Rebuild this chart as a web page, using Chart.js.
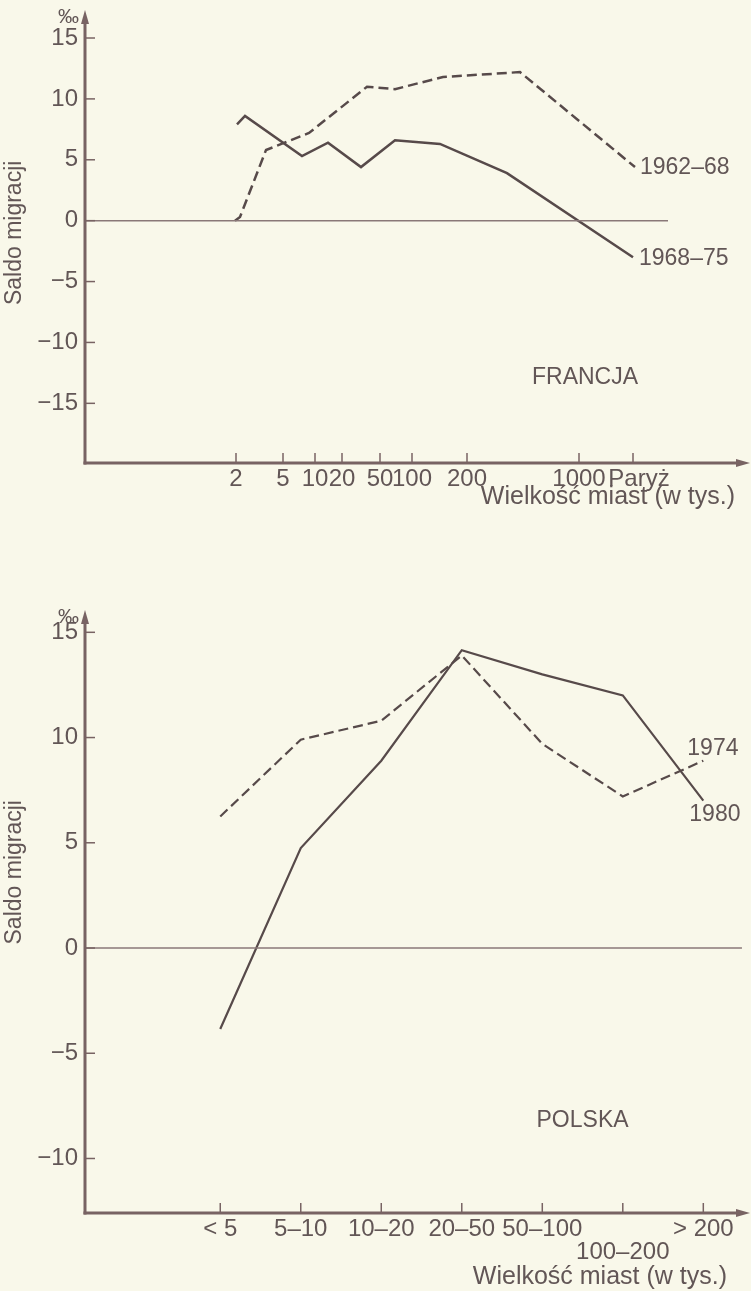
<!DOCTYPE html>
<html>
<head>
<meta charset="utf-8">
<script src="https://cdn.jsdelivr.net/npm/chart.js@4.4.0/dist/chart.umd.min.js"></script>
<style>
  html, body { margin: 0; padding: 0; background: #f9f8ea; }
  .box { position: relative; width: 751px; }
  canvas { display: block; }
</style>
</head>
<body>
<div class="box" style="height:540px"><canvas id="francja" width="751" height="540"></canvas></div>
<div class="box" style="height:751px"><canvas id="polska" width="751" height="751"></canvas></div>
<script>
// FRANCJA - x is the position along the (schematic, uneven) city size axis
const frTickPos = [15.1, 19.8, 23.0, 25.7, 29.5, 32.7, 38.2, 49.4, 54.8];
const frTickLabels = ["2", "5", "10", "20", "50", "100", "200", "1000", "Paryż"];
const fr6268x = [15.0, 15.5, 18.1, 22.4, 28.2, 31.0, 35.8, 43.5, 55.0];
const fr6268y = [0.0, 0.3, 5.8, 7.2, 11.0, 10.8, 11.8, 12.2, 4.4];
const fr6875x = [15.2, 16.0, 21.7, 24.3, 27.6, 31.0, 35.5, 42.2, 54.8];
const fr6875y = [7.9, 8.6, 5.3, 6.4, 4.4, 6.6, 6.3, 3.9, -3.0];
const frYTicks = [15, 10, 5, 0, -5, -10, -15];
const frZeroEnd = 58.3;

// POLSKA - city size classes (thousands)
const plCategories = ["< 5", "5–10", "10–20", "20–50", "50–100", "100–200", "> 200"];
const pl1974 = [6.25, 9.9, 10.8, 13.9, 9.7, 7.2, 8.9];
const pl1980 = [-3.85, 4.75, 8.9, 14.15, 13.0, 12.0, 7.0];
const plYTicks = [15, 10, 5, 0, -5, -10];
const plZeroEnd = 6.48;

const FONT = '"Liberation Sans", Arial, Helvetica, sans-serif';
const TXT = '#625656';
const AXIS = '#786363';
const LINE = '#574a4a';

Chart.defaults.font.family = FONT;
Chart.defaults.font.size = 24;
Chart.defaults.color = TXT;

const minus = v => (v < 0 ? '−' + Math.abs(v) : String(v));

// axes with arrows, inner tick marks and all the free text
const decor = {
  id: 'decor',
  afterDraw(chart, args, o) {
    const { ctx, chartArea: a, scales: { x, y } } = chart;
    ctx.save();
    ctx.strokeStyle = AXIS;
    ctx.fillStyle = AXIS;
    ctx.lineWidth = 3;
    ctx.beginPath();
    ctx.moveTo(a.left, a.bottom + 1.5);
    ctx.lineTo(a.left, a.top + 10);
    ctx.stroke();
    ctx.beginPath();
    ctx.moveTo(a.left, a.top);
    ctx.lineTo(a.left - 4, a.top + 14);
    ctx.lineTo(a.left + 4, a.top + 14);
    ctx.closePath();
    ctx.fill();
    ctx.beginPath();
    ctx.moveTo(a.left - 1.5, a.bottom);
    ctx.lineTo(a.right - 10, a.bottom);
    ctx.stroke();
    ctx.beginPath();
    ctx.moveTo(a.right, a.bottom);
    ctx.lineTo(a.right - 14, a.bottom - 4);
    ctx.lineTo(a.right - 14, a.bottom + 4);
    ctx.closePath();
    ctx.fill();

    ctx.lineWidth = 1.5;
    y.ticks.forEach(t => {
      const py = y.getPixelForValue(t.value);
      ctx.beginPath();
      ctx.moveTo(a.left, py);
      ctx.lineTo(a.left + 10, py);
      ctx.stroke();
    });
    x.ticks.forEach(t => {
      const px = x.getPixelForValue(t.value);
      ctx.beginPath();
      ctx.moveTo(px, a.bottom);
      ctx.lineTo(px, a.bottom - 10);
      ctx.stroke();
    });

    ctx.fillStyle = TXT;
    ctx.textBaseline = 'middle';

    ctx.font = '21px ' + FONT;
    ctx.textAlign = 'right';
    ctx.fillText('‰', a.left - 6, a.top + 7);

    ctx.font = '23px ' + FONT;
    ctx.save();
    ctx.translate(15, y.getPixelForValue(o.yTitleAt));
    ctx.rotate(-Math.PI / 2);
    ctx.textAlign = 'center';
    ctx.fillText('Saldo migracji', 0, 0);
    ctx.restore();

    ctx.font = '25px ' + FONT;
    ctx.textAlign = 'right';
    ctx.fillText('Wielkość miast (w tys.)', a.right - o.xTitleDx, a.bottom + o.xTitleDy);

    ctx.font = '23px ' + FONT;
    ctx.textAlign = 'center';
    ctx.fillText(o.name, x.getPixelForValue(o.nameAt[0]), y.getPixelForValue(o.nameAt[1]));

    ctx.textAlign = 'left';
    chart.data.datasets.forEach((ds, i) => {
      if (!ds.endLabel) return;
      const pts = chart.getDatasetMeta(i).data;
      const p = pts[pts.length - 1];
      ctx.fillText(ds.endLabel, p.x + ds.labelOffset[0], p.y + ds.labelOffset[1]);
    });
    ctx.restore();
  }
};

function makeChart(id, cfg) {
  return new Chart(document.getElementById(id), {
    type: 'line',
    data: { datasets: cfg.datasets },
    plugins: [decor],
    options: {
      responsive: false,
      animation: false,
      devicePixelRatio: 1,
      events: [],
      layout: { padding: { left: 0, right: 1, top: cfg.top, bottom: 0 } },
      elements: { point: { radius: 0 }, line: { tension: 0 } },
      plugins: { legend: { display: false }, tooltip: { enabled: false }, decor: cfg.decor },
      scales: {
        x: {
          type: 'linear',
          min: cfg.xMin,
          max: cfg.xMax,
          grid: { display: false, drawTicks: false },
          border: { display: false },
          afterBuildTicks: s => { s.ticks = cfg.xTicks.map(v => ({ value: v })); },
          afterFit: s => { s.height = cfg.xHeight; s.paddingLeft = 0; s.paddingRight = 0; },
          ticks: {
            autoSkip: false,
            maxRotation: 0,
            minRotation: 0,
            padding: 5,
            font: { size: 24, lineHeight: 0.96 },
            callback: cfg.xLabel
          }
        },
        y: {
          min: cfg.yMin,
          max: cfg.yMax,
          grid: { display: false, drawTicks: false },
          border: { display: false },
          afterBuildTicks: s => { s.ticks = cfg.yTicks.map(v => ({ value: v })); },
          afterFit: s => { s.width = 85; s.paddingTop = 0; s.paddingBottom = 0; },
          ticks: { padding: 7, font: { size: 24 }, callback: v => minus(v) }
        }
      }
    }
  });
}

makeChart('francja', {
  top: 10,
  xHeight: 77,
  xMin: 0,
  xMax: 66.5,
  yMin: -19.9,
  yMax: 17.3,
  xTicks: frTickPos,
  yTicks: frYTicks,
  // "Paryż" sits a little right of its tick in the original
  xLabel: (v, i) => (i === frTickLabels.length - 1 ? '\u2002' + frTickLabels[i] : frTickLabels[i]),
  decor: { yTitleAt: -1.0, xTitleDx: 15, xTitleDy: 34, name: 'FRANCJA', nameAt: [50.0, -12.9] },
  datasets: [
    {
      data: [{ x: 0, y: 0 }, { x: frZeroEnd, y: 0 }],
      borderColor: '#8a7878',
      borderWidth: 1.5
    },
    {
      data: fr6268x.map((x, i) => ({ x, y: fr6268y[i] })),
      borderColor: LINE,
      borderWidth: 2.5,
      borderDash: [10, 5],
      endLabel: '1962–68',
      labelOffset: [5, 1]
    },
    {
      data: fr6875x.map((x, i) => ({ x, y: fr6875y[i] })),
      borderColor: LINE,
      borderWidth: 2.5,
      endLabel: '1968–75',
      labelOffset: [6, 1]
    }
  ]
});

makeChart('polska', {
  top: 70,
  xHeight: 78,
  xMin: -1.68,
  xMax: 6.58,
  yMin: -12.59,
  yMax: 16.06,
  xTicks: plCategories.map((c, i) => i),
  yTicks: plYTicks,
  // the 100-200 label is set one line lower, as in the original
  xLabel: (v, i) => (i === 5 ? ['', plCategories[i]] : plCategories[i]),
  decor: { yTitleAt: 3.6, xTitleDx: 23, xTitleDy: 64, name: 'POLSKA', nameAt: [4.5, -8.2] },
  datasets: [
    {
      data: [{ x: -1.68, y: 0 }, { x: plZeroEnd, y: 0 }],
      borderColor: '#8a7878',
      borderWidth: 1.5
    },
    {
      data: pl1974.map((y, i) => ({ x: i, y })),
      borderColor: LINE,
      borderWidth: 2.2,
      borderDash: [10, 5],
      endLabel: '1974',
      labelOffset: [-16, -12]
    },
    {
      data: pl1980.map((y, i) => ({ x: i, y })),
      borderColor: LINE,
      borderWidth: 2.2,
      endLabel: '1980',
      labelOffset: [-14, 14]
    }
  ]
});
</script>
</body>
</html>
